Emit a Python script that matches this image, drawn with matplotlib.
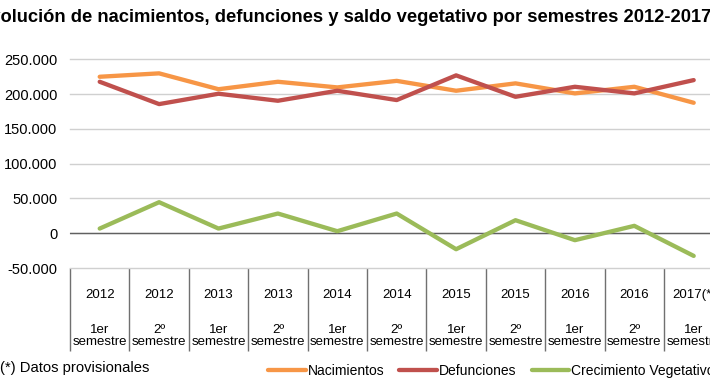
import matplotlib
matplotlib.use("Agg")
import matplotlib.pyplot as plt
import matplotlib.transforms as mtrans

plt.rcParams['font.family'] = ['Liberation Sans', 'DejaVu Sans']

years = ["2012", "2012", "2013", "2013", "2014", "2014", "2015", "2015", "2016", "2016", "2017(*)"]
semesters = ["1er\nsemestre", "2º\nsemestre"] * 5 + ["1er\nsemestre"]
nacimientos = [224900, 229800, 207000, 217700, 209600, 219000, 204800, 215400, 201000, 210500, 187500]
defunciones = [217700, 185600, 200500, 190400, 204800, 191400, 226900, 196100, 210500, 201000, 220100]
crecimiento = [6700, 44600, 6700, 28300, 2900, 28300, -23000, 18700, -10000, 10600, -32600]
yticks = [-50000, 0, 50000, 100000, 150000, 200000, 250000]
ytick_labels = ["-50.000", "0", "50.000", "100.000", "150.000", "200.000", "250.000"]

W, H = 710, 390
fig = plt.figure(figsize=(W / 100, H / 100), dpi=100)
ax_left, ax_top, ax_bot = 70, 59.3, 268
ax_w = 11 * 59.4
ax = fig.add_axes([ax_left / W, 1 - ax_bot / H, ax_w / W, (ax_bot - ax_top) / H])

x = list(range(len(years)))
ax.plot(x, nacimientos, color='#F79646', lw=3.1, label='Nacimientos', solid_capstyle='round', zorder=3)
ax.plot(x, defunciones, color='#C0504D', lw=3.1, label='Defunciones', solid_capstyle='round', zorder=3)
ax.plot(x, crecimiento, color='#9BBB59', lw=3.1, label='Crecimiento Vegetativo', solid_capstyle='round', zorder=3)

ax.set_xlim(-0.5, len(years) - 0.5)
ax.set_ylim(-50000, 250000)
ax.set_yticks(yticks)
ax.set_yticklabels(ytick_labels, fontsize=10.5)
ax.tick_params(axis='y', length=0, pad=9)
ax.yaxis.grid(True, color='#D0D0D0', lw=1.0, clip_on=False)
ax.axhline(0, color='#606060', lw=1.0, zorder=2)
for s in ax.spines.values():
    s.set_visible(False)
ax.set_axisbelow(True)

# category labels
ax.set_xticks(x)
ax.set_xticklabels(years, fontsize=9.5)
ax.tick_params(axis='x', which='major', length=0, pad=15)
ax.set_xticks([i - 0.5 for i in range(len(years) + 1)], minor=True)
ax.tick_params(axis='x', which='minor', length=60, width=1.0, color='#707070', direction='out')
trans = mtrans.blended_transform_factory(ax.transData, fig.transFigure)
for i, s in enumerate(semesters):
    ax.text(i, 1 - 336 / H, s, transform=trans, ha='center', va='center',
            fontsize=9.5, linespacing=1.1)

# title
fig.text(-22 / W, 1 - 17 / H,
         "Evolución de nacimientos, defunciones y saldo vegetativo por semestres 2012-2017(*)",
         ha='left', va='center', fontsize=13.2, fontweight='bold')

fig.text(0 / W, 1 - 368 / H, "(*) Datos provisionales", ha='left', va='center', fontsize=10.6)

fig.legend(loc='center left', bbox_to_anchor=(268 / W, 1 - 371 / H), ncol=3, frameon=False,
           fontsize=10, handlelength=2.7, handletextpad=0.15, columnspacing=1.1,
           borderaxespad=0, borderpad=0)

fig.savefig("out.png", dpi=100)
